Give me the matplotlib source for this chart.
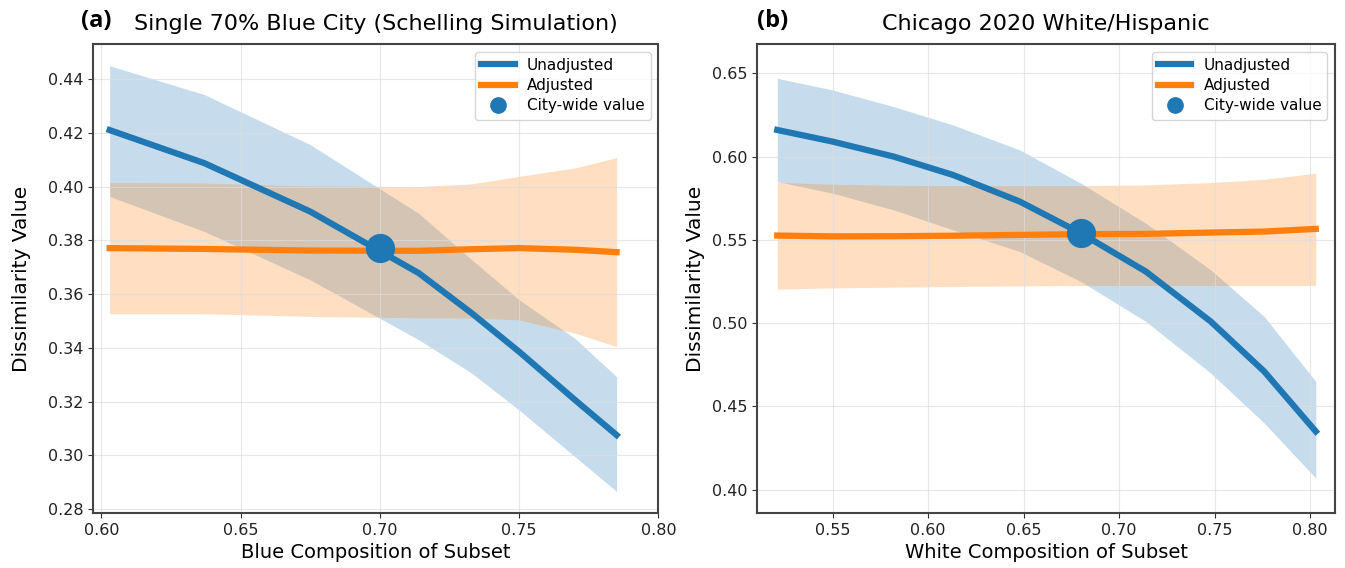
"""Dissimilarity index vs. subset composition, unadjusted and adjusted."""

import matplotlib
matplotlib.use('Agg')
import matplotlib.pyplot as plt

# (a) Schelling simulation, single 70% blue city
share_a = [0.603, 0.637, 0.675, 0.714, 0.733, 0.750, 0.770, 0.785]
unadj_a = [0.4210, 0.4087, 0.3907, 0.3678, 0.3529, 0.3386, 0.3207, 0.3076]
unadj_hi_a = [0.4449, 0.4342, 0.4156, 0.3900, 0.3728, 0.3579, 0.3436, 0.3293]
unadj_lo_a = [0.3963, 0.3833, 0.3653, 0.3430, 0.3306, 0.3169, 0.2996, 0.2866]
adj_a = [0.3771, 0.3768, 0.3762, 0.3761, 0.3767, 0.3771, 0.3765, 0.3756]
adj_hi_a = [0.4015, 0.4013, 0.4002, 0.4000, 0.4010, 0.4038, 0.4069, 0.4108]
adj_lo_a = [0.3527, 0.3527, 0.3517, 0.3512, 0.3511, 0.3504, 0.3455, 0.3405]
city_a = (0.700, 0.377)

# (b) Chicago 2020, white / hispanic
share_b = [0.521, 0.550, 0.582, 0.613, 0.648, 0.680, 0.714, 0.748, 0.776, 0.803]
unadj_b = [0.616, 0.609, 0.600, 0.589, 0.573, 0.554, 0.531, 0.501, 0.471, 0.435]
unadj_hi_b = [0.647, 0.640, 0.630, 0.619, 0.604, 0.584, 0.560, 0.532, 0.504, 0.465]
unadj_lo_b = [0.585, 0.578, 0.568, 0.556, 0.543, 0.525, 0.501, 0.470, 0.440, 0.407]
adj_b = [0.5526, 0.5521, 0.5522, 0.5525, 0.5530, 0.5534, 0.5536, 0.5544,
         0.5550, 0.5566]
adj_hi_b = [0.5846, 0.5834, 0.5828, 0.5826, 0.5826, 0.5826, 0.5830, 0.5844,
            0.5864, 0.5900]
adj_lo_b = [0.5204, 0.5212, 0.5216, 0.5220, 0.5224, 0.5226, 0.5226, 0.5226,
            0.5226, 0.5226]
city_b = (0.680, 0.554)

BLUE = '#1f77b4'
ORANGE = '#ff7f0e'


def panel(ax, x, unadj, lo, hi, adj, alo, ahi, city, title, xlabel, ypad):
    ax.fill_between(x, lo, hi, color=BLUE, alpha=0.25, lw=0)
    ax.fill_between(x, alo, ahi, color=ORANGE, alpha=0.25, lw=0)
    ax.plot(x, unadj, color=BLUE, lw=4.5, label='Unadjusted')
    ax.plot(x, adj, color=ORANGE, lw=4.5, label='Adjusted')
    ax.plot([city[0]], [city[1]], 'o', color=BLUE, ms=20, zorder=5,
            label='City-wide value')
    ax.set_title(title, fontsize=16, pad=10)
    ax.set_xlabel(xlabel, fontsize=14)
    ax.set_ylabel('Dissimilarity Value', fontsize=14.5, labelpad=ypad)
    ax.grid(color='#dddddd', lw=0.8, alpha=0.7)
    ax.tick_params(labelsize=11.5, color='#333333', labelcolor='#222222')
    for sp in ax.spines.values():
        sp.set_color('#444444')
        sp.set_linewidth(1.5)
    ax.legend(loc='upper right', fontsize=11, markerscale=0.55,
              handlelength=2.2, borderpad=0.4, labelspacing=0.35)


def main():
    fig = plt.figure(figsize=(13.45, 5.68), dpi=100)
    ax1 = fig.add_axes([0.0691, 0.0968, 0.4204, 0.8257])
    ax2 = fig.add_axes([0.5630, 0.0968, 0.4296, 0.8257])

    panel(ax1, share_a, unadj_a, unadj_lo_a, unadj_hi_a, adj_a, adj_lo_a,
          adj_hi_a, city_a, 'Single 70% Blue City (Schelling Simulation)',
          'Blue Composition of Subset', 12)
    ax1.set_xlim(0.597, 0.80)
    ax1.set_ylim(0.2786, 0.4530)
    ax1.set_xticks([0.60, 0.65, 0.70, 0.75, 0.80])
    ax1.set_yticks([0.28, 0.30, 0.32, 0.34, 0.36, 0.38, 0.40, 0.42, 0.44])

    panel(ax2, share_b, unadj_b, unadj_lo_b, unadj_hi_b, adj_b, adj_lo_b,
          adj_hi_b, city_b, 'Chicago 2020 White/Hispanic',
          'White Composition of Subset', 5)
    ax2.set_xlim(0.5105, 0.8131)
    ax2.set_ylim(0.386, 0.6676)
    ax2.set_xticks([0.55, 0.60, 0.65, 0.70, 0.75, 0.80])
    ax2.set_yticks([0.40, 0.45, 0.50, 0.55, 0.60, 0.65])

    # panel tags
    for xpos, tag in [(0.0600, '(a)'), (0.5625, '(b)')]:
        fig.text(xpos, 0.963, tag, fontsize=17, fontweight='bold',
                 family=['Open Sans', 'DejaVu Sans'], va='center', ha='left')

    fig.savefig('out.png', dpi=100)
    plt.close(fig)


if __name__ == '__main__':
    main()
